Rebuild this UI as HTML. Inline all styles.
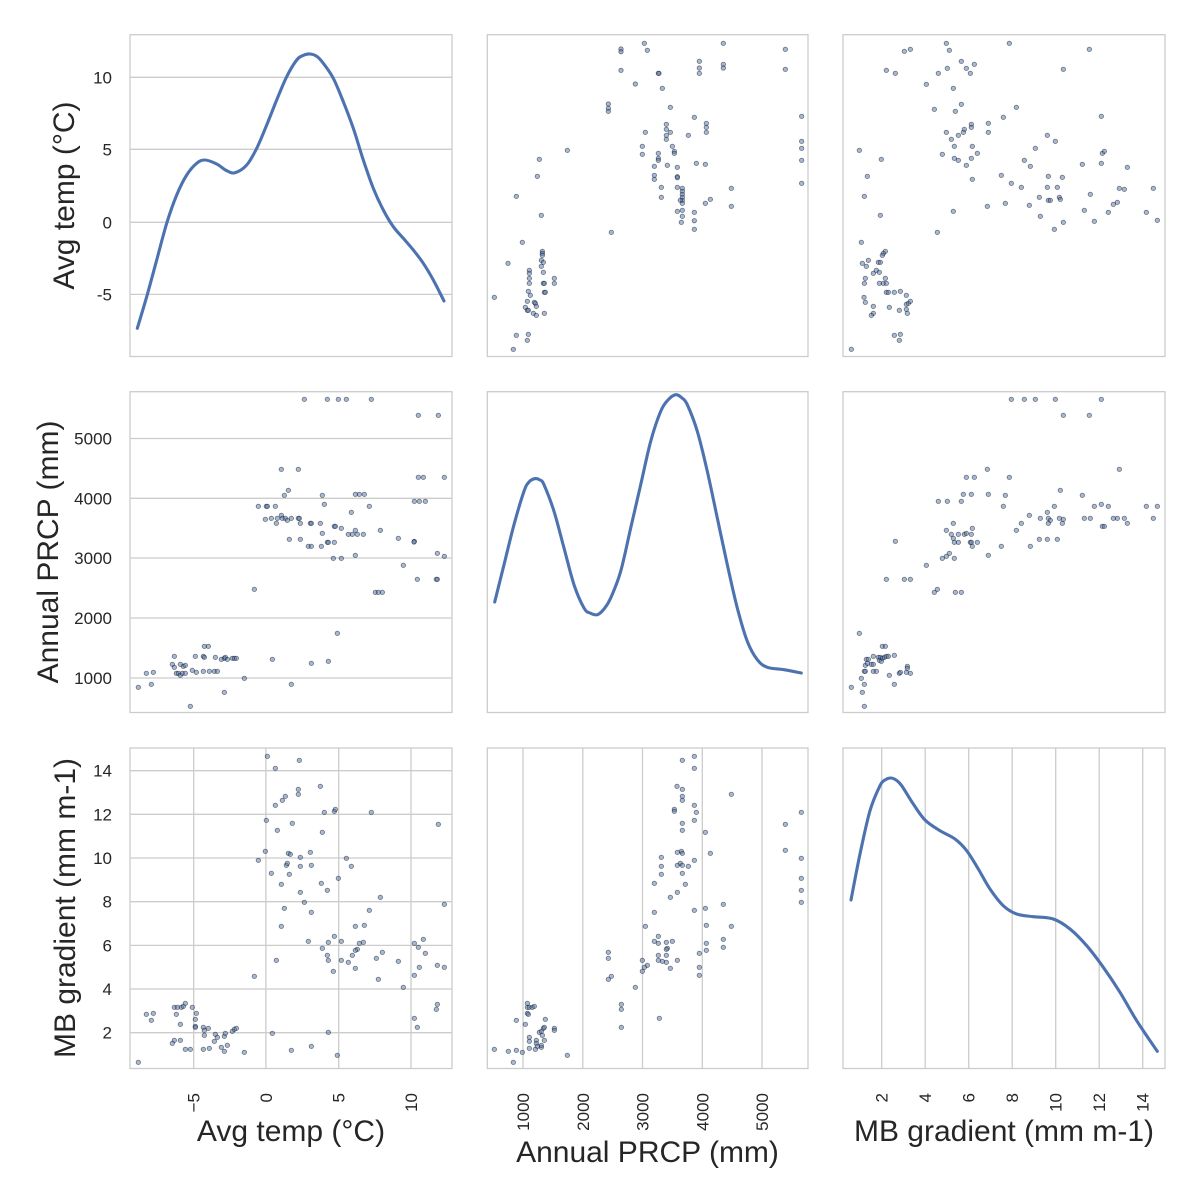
<!DOCTYPE html>
<html><head><meta charset="utf-8"><style>
html,body{margin:0;padding:0;background:#fff;}
svg{display:block;}
text{font-family:"Liberation Sans",Arial,sans-serif;fill:#262626;}
.tk{font-size:17px;}
.lb{font-size:30px;}
.g{stroke:#cccccc;stroke-width:1.3;fill:none;}
.sp{stroke:#cccccc;stroke-width:1.3;fill:none;}
.pts circle{r:6.6px;fill:#4c72b0;fill-opacity:.5;stroke:#000;stroke-opacity:.5;stroke-width:2.4;}
.kde{fill:none;stroke:#4c72b0;stroke-width:3.1;stroke-linejoin:round;stroke-linecap:round;}
</style></head><body>
<svg id="fig" width="1200" height="1200" viewBox="0 0 1200 1200" xmlns="http://www.w3.org/2000/svg">
<rect width="1200" height="1200" fill="#fff"/>
<g class="g">
<line x1="130" x2="452" y1="77.3" y2="77.3"/><line x1="130" x2="452" y1="149.3" y2="149.3"/><line x1="130" x2="452" y1="222.3" y2="222.3"/><line x1="130" x2="452" y1="294.4" y2="294.4"/>
<line x1="130" x2="452" y1="438.5" y2="438.5"/><line x1="130" x2="452" y1="498.3" y2="498.3"/><line x1="130" x2="452" y1="558" y2="558"/><line x1="130" x2="452" y1="618" y2="618"/><line x1="130" x2="452" y1="678" y2="678"/>
<line x1="130" x2="452" y1="770.7" y2="770.7"/><line x1="130" x2="452" y1="814.3" y2="814.3"/><line x1="130" x2="452" y1="858" y2="858"/><line x1="130" x2="452" y1="901.7" y2="901.7"/><line x1="130" x2="452" y1="945.4" y2="945.4"/><line x1="130" x2="452" y1="989" y2="989"/><line x1="130" x2="452" y1="1032.7" y2="1032.7"/>
<line y1="748" y2="1068.5" x1="193.7" x2="193.7"/><line y1="748" y2="1068.5" x1="265.9" x2="265.9"/><line y1="748" y2="1068.5" x1="338.7" x2="338.7"/><line y1="748" y2="1068.5" x1="411" x2="411"/>
<line y1="748" y2="1068.5" x1="523" x2="523"/><line y1="748" y2="1068.5" x1="582.8" x2="582.8"/><line y1="748" y2="1068.5" x1="642.5" x2="642.5"/><line y1="748" y2="1068.5" x1="702.3" x2="702.3"/><line y1="748" y2="1068.5" x1="762" x2="762"/>
<line y1="748" y2="1068.5" x1="881.7" x2="881.7"/><line y1="748" y2="1068.5" x1="925.2" x2="925.2"/><line y1="748" y2="1068.5" x1="968.7" x2="968.7"/><line y1="748" y2="1068.5" x1="1012.2" x2="1012.2"/><line y1="748" y2="1068.5" x1="1055.7" x2="1055.7"/><line y1="748" y2="1068.5" x1="1099.2" x2="1099.2"/><line y1="748" y2="1068.5" x1="1142.7" x2="1142.7"/>
</g>

<polyline class="kde" points="137.3,328.3 146.7,296.7 156.7,260 166.7,223.3 176.7,195 186.7,175 196.7,163.3 205,160 216.7,164 226.7,170.7 235,172.7 246.7,165 256.7,148.3 266.7,125 276.7,100 286.7,76.7 296.7,60 303,55.5 310,54 317,56.5 323.3,63.3 333.3,78.3 343.3,101.7 353.3,128.3 363.3,160 373.3,188.3 383.3,210 393.3,226.7 403.3,238.3 413.3,250 423.3,263.3 433.3,280 444,301"/>
<polyline class="kde" points="494.7,602 504,564.7 514,524.7 524,491.3 529,482 534.7,478.7 540,480 544,484.7 554,511.3 564,548 574,584.7 584,608 590,613 597.3,614.7 604,609 610.7,598 620.7,571.3 630.7,528 640.7,484.7 650.7,441.3 660.7,411.3 668,400 675.7,394.7 682,398 687.3,404.7 697.3,431.3 707.3,471.3 717.3,518 727.3,564.7 737.3,608 747.3,641.3 757.3,659.7 767.3,667.3 784,669.7 801.3,673"/>
<polyline class="kde" points="851,900 860,854 870,810.7 880,785.7 885,780 890.7,778 896,780 901.7,785.7 913.3,804 925,820 940,830.7 955,839 966.7,850.7 978.3,869 990,889 1003.3,905.7 1016.7,914 1033.3,916.7 1053.3,919 1070,929 1086.7,945.7 1103.3,967.3 1120,992.3 1136.7,1020.7 1157.3,1051.3"/>

<g class="pts" transform="translate(485,30) scale(0.333333)">
<circle cx="408" cy="57"/><circle cx="408" cy="65"/><circle cx="478" cy="40"/><circle cx="487" cy="61"/><circle cx="715" cy="40"/><circle cx="901" cy="58"/><circle cx="643" cy="94"/><circle cx="643" cy="114"/><circle cx="643" cy="130"/><circle cx="715" cy="103"/><circle cx="715" cy="114"/><circle cx="408" cy="121"/><circle cx="520" cy="130"/><circle cx="522" cy="130"/><circle cx="451" cy="162"/><circle cx="532" cy="175"/><circle cx="901" cy="118"/><circle cx="370" cy="222"/><circle cx="370" cy="235"/><circle cx="370" cy="244"/><circle cx="556" cy="232"/><circle cx="628" cy="262"/><circle cx="664" cy="280"/><circle cx="664" cy="292"/><circle cx="664" cy="307"/><circle cx="544" cy="283"/><circle cx="544" cy="298"/><circle cx="556" cy="307"/><circle cx="481" cy="307"/><circle cx="544" cy="316"/><circle cx="544" cy="328"/><circle cx="610" cy="316"/><circle cx="472" cy="349"/><circle cx="562" cy="349"/><circle cx="568" cy="364"/><circle cx="568" cy="370"/><circle cx="472" cy="373"/><circle cx="520" cy="370"/><circle cx="520" cy="385"/><circle cx="520" cy="391"/><circle cx="508" cy="409"/><circle cx="547" cy="406"/><circle cx="577" cy="412"/><circle cx="634" cy="400"/><circle cx="661" cy="403"/><circle cx="950" cy="259"/><circle cx="950" cy="334"/><circle cx="950" cy="355"/><circle cx="950" cy="391"/><circle cx="950" cy="460"/><circle cx="247" cy="361"/><circle cx="163" cy="388"/><circle cx="157" cy="439"/><circle cx="94" cy="499"/><circle cx="169" cy="556"/><circle cx="508" cy="436"/><circle cx="508" cy="448"/><circle cx="577" cy="440"/><circle cx="577" cy="443"/><circle cx="529" cy="472"/><circle cx="577" cy="472"/><circle cx="592" cy="475"/><circle cx="592" cy="484"/><circle cx="592" cy="493"/><circle cx="592" cy="502"/><circle cx="592" cy="511"/><circle cx="586" cy="511"/><circle cx="592" cy="520"/><circle cx="739" cy="475"/><circle cx="529" cy="502"/><circle cx="676" cy="508"/><circle cx="661" cy="520"/><circle cx="739" cy="529"/><circle cx="577" cy="544"/><circle cx="592" cy="541"/><circle cx="592" cy="559"/><circle cx="628" cy="547"/><circle cx="628" cy="572"/><circle cx="589" cy="577"/><circle cx="628" cy="598"/><circle cx="379" cy="607"/><circle cx="112" cy="637"/><circle cx="69" cy="700"/><circle cx="172" cy="664"/><circle cx="172" cy="670"/><circle cx="172" cy="676"/><circle cx="169" cy="691"/><circle cx="175" cy="697"/><circle cx="169" cy="709"/><circle cx="175" cy="727"/><circle cx="133" cy="721"/><circle cx="133" cy="730"/><circle cx="133" cy="745"/><circle cx="133" cy="760"/><circle cx="208" cy="745"/><circle cx="208" cy="760"/><circle cx="175" cy="760"/><circle cx="178" cy="760"/><circle cx="178" cy="787"/><circle cx="181" cy="787"/><circle cx="28" cy="802"/><circle cx="130" cy="784"/><circle cx="136" cy="796"/><circle cx="127" cy="814"/><circle cx="148" cy="817"/><circle cx="151" cy="820"/><circle cx="154" cy="829"/><circle cx="121" cy="832"/><circle cx="127" cy="841"/><circle cx="130" cy="841"/><circle cx="145" cy="850"/><circle cx="154" cy="856"/><circle cx="178" cy="850"/><circle cx="94" cy="916"/><circle cx="130" cy="913"/><circle cx="127" cy="931"/><circle cx="85" cy="958"/>
</g>

<g class="pts" transform="translate(840,30) scale(0.333333)">
<circle cx="319" cy="40"/><circle cx="508" cy="40"/><circle cx="193" cy="64"/><circle cx="211" cy="58"/><circle cx="328" cy="61"/><circle cx="748" cy="58"/><circle cx="364" cy="94"/><circle cx="403" cy="103"/><circle cx="322" cy="115"/><circle cx="379" cy="115"/><circle cx="139" cy="121"/><circle cx="166" cy="130"/><circle cx="295" cy="130"/><circle cx="391" cy="130"/><circle cx="670" cy="118"/><circle cx="259" cy="163"/><circle cx="340" cy="175"/><circle cx="364" cy="223"/><circle cx="283" cy="238"/><circle cx="346" cy="244"/><circle cx="529" cy="232"/><circle cx="490" cy="262"/><circle cx="784" cy="259"/><circle cx="445" cy="280"/><circle cx="394" cy="283"/><circle cx="394" cy="292"/><circle cx="373" cy="298"/><circle cx="370" cy="307"/><circle cx="445" cy="307"/><circle cx="319" cy="307"/><circle cx="355" cy="316"/><circle cx="334" cy="328"/><circle cx="622" cy="316"/><circle cx="646" cy="334"/><circle cx="343" cy="349"/><circle cx="397" cy="349"/><circle cx="586" cy="355"/><circle cx="412" cy="370"/><circle cx="307" cy="373"/><circle cx="343" cy="385"/><circle cx="355" cy="391"/><circle cx="394" cy="385"/><circle cx="379" cy="406"/><circle cx="397" cy="448"/><circle cx="553" cy="391"/><circle cx="571" cy="409"/><circle cx="58" cy="361"/><circle cx="124" cy="388"/><circle cx="787" cy="370"/><circle cx="793" cy="364"/><circle cx="784" cy="400"/><circle cx="727" cy="403"/><circle cx="862" cy="412"/><circle cx="82" cy="439"/><circle cx="484" cy="436"/><circle cx="625" cy="439"/><circle cx="667" cy="442"/><circle cx="514" cy="460"/><circle cx="544" cy="472"/><circle cx="622" cy="472"/><circle cx="652" cy="472"/><circle cx="73" cy="499"/><circle cx="598" cy="502"/><circle cx="625" cy="511"/><circle cx="631" cy="511"/><circle cx="658" cy="502"/><circle cx="661" cy="508"/><circle cx="838" cy="475"/><circle cx="853" cy="478"/><circle cx="940" cy="475"/><circle cx="751" cy="493"/><circle cx="442" cy="529"/><circle cx="496" cy="520"/><circle cx="568" cy="526"/><circle cx="601" cy="559"/><circle cx="733" cy="541"/><circle cx="820" cy="523"/><circle cx="832" cy="517"/><circle cx="805" cy="547"/><circle cx="919" cy="547"/><circle cx="340" cy="544"/><circle cx="121" cy="556"/><circle cx="670" cy="577"/><circle cx="763" cy="574"/><circle cx="643" cy="598"/><circle cx="952" cy="571"/><circle cx="292" cy="607"/><circle cx="64" cy="637"/><circle cx="136" cy="664"/><circle cx="130" cy="670"/><circle cx="127" cy="676"/><circle cx="85" cy="691"/><circle cx="67" cy="700"/><circle cx="79" cy="709"/><circle cx="115" cy="697"/><circle cx="121" cy="697"/><circle cx="109" cy="721"/><circle cx="100" cy="730"/><circle cx="118" cy="727"/><circle cx="76" cy="745"/><circle cx="73" cy="760"/><circle cx="136" cy="745"/><circle cx="118" cy="760"/><circle cx="130" cy="760"/><circle cx="139" cy="760"/><circle cx="139" cy="787"/><circle cx="145" cy="787"/><circle cx="163" cy="787"/><circle cx="181" cy="784"/><circle cx="199" cy="796"/><circle cx="72" cy="802"/><circle cx="76" cy="817"/><circle cx="100" cy="829"/><circle cx="148" cy="832"/><circle cx="178" cy="841"/><circle cx="199" cy="823"/><circle cx="205" cy="820"/><circle cx="211" cy="814"/><circle cx="199" cy="838"/><circle cx="202" cy="850"/><circle cx="100" cy="850"/><circle cx="94" cy="856"/><circle cx="163" cy="916"/><circle cx="181" cy="913"/><circle cx="178" cy="931"/><circle cx="34" cy="958"/>
</g>

<g class="pts" transform="translate(128,388) scale(0.333333)">
<circle cx="529" cy="34"/><circle cx="598" cy="34"/><circle cx="631" cy="34"/><circle cx="655" cy="34"/><circle cx="730" cy="34"/><circle cx="871" cy="82"/><circle cx="931" cy="82"/><circle cx="460" cy="244"/><circle cx="511" cy="244"/><circle cx="871" cy="268"/><circle cx="886" cy="268"/><circle cx="949" cy="268"/><circle cx="481" cy="307"/><circle cx="469" cy="322"/><circle cx="583" cy="322"/><circle cx="682" cy="319"/><circle cx="694" cy="319"/><circle cx="709" cy="319"/><circle cx="391" cy="355"/><circle cx="415" cy="355"/><circle cx="418" cy="355"/><circle cx="442" cy="355"/><circle cx="589" cy="349"/><circle cx="724" cy="355"/><circle cx="859" cy="340"/><circle cx="874" cy="340"/><circle cx="892" cy="340"/><circle cx="460" cy="382"/><circle cx="412" cy="394"/><circle cx="430" cy="391"/><circle cx="448" cy="391"/><circle cx="463" cy="391"/><circle cx="472" cy="391"/><circle cx="478" cy="397"/><circle cx="490" cy="391"/><circle cx="511" cy="391"/><circle cx="514" cy="391"/><circle cx="445" cy="406"/><circle cx="517" cy="406"/><circle cx="547" cy="406"/><circle cx="550" cy="406"/><circle cx="577" cy="406"/><circle cx="619" cy="415"/><circle cx="622" cy="415"/><circle cx="640" cy="421"/><circle cx="670" cy="373"/><circle cx="682" cy="427"/><circle cx="661" cy="439"/><circle cx="673" cy="439"/><circle cx="688" cy="439"/><circle cx="706" cy="439"/><circle cx="583" cy="436"/><circle cx="757" cy="427"/><circle cx="811" cy="451"/><circle cx="484" cy="454"/><circle cx="517" cy="454"/><circle cx="541" cy="475"/><circle cx="550" cy="475"/><circle cx="580" cy="475"/><circle cx="598" cy="463"/><circle cx="601" cy="463"/><circle cx="619" cy="463"/><circle cx="859" cy="460"/><circle cx="858" cy="462"/><circle cx="928" cy="496"/><circle cx="949" cy="505"/><circle cx="616" cy="511"/><circle cx="640" cy="511"/><circle cx="682" cy="502"/><circle cx="826" cy="532"/><circle cx="868" cy="574"/><circle cx="925" cy="574"/><circle cx="928" cy="574"/><circle cx="379" cy="604"/><circle cx="742" cy="613"/><circle cx="751" cy="613"/><circle cx="763" cy="613"/><circle cx="628" cy="736"/><circle cx="229" cy="775"/><circle cx="241" cy="775"/><circle cx="139" cy="805"/><circle cx="202" cy="805"/><circle cx="226" cy="805"/><circle cx="229" cy="808"/><circle cx="262" cy="808"/><circle cx="280" cy="814"/><circle cx="289" cy="811"/><circle cx="292" cy="808"/><circle cx="298" cy="814"/><circle cx="313" cy="811"/><circle cx="319" cy="811"/><circle cx="325" cy="811"/><circle cx="433" cy="814"/><circle cx="550" cy="826"/><circle cx="601" cy="820"/><circle cx="133" cy="829"/><circle cx="139" cy="838"/><circle cx="157" cy="829"/><circle cx="166" cy="835"/><circle cx="172" cy="832"/><circle cx="193" cy="847"/><circle cx="205" cy="853"/><circle cx="226" cy="850"/><circle cx="244" cy="850"/><circle cx="259" cy="850"/><circle cx="268" cy="850"/><circle cx="145" cy="856"/><circle cx="151" cy="856"/><circle cx="157" cy="862"/><circle cx="163" cy="856"/><circle cx="172" cy="856"/><circle cx="55" cy="856"/><circle cx="76" cy="853"/><circle cx="349" cy="871"/><circle cx="31" cy="898"/><circle cx="70" cy="889"/><circle cx="490" cy="889"/><circle cx="289" cy="913"/><circle cx="187" cy="955"/>
</g>

<g class="pts" transform="translate(840,388) scale(0.333333)">
<circle cx="514" cy="34"/><circle cx="553" cy="34"/><circle cx="586" cy="34"/><circle cx="646" cy="34"/><circle cx="784" cy="34"/><circle cx="670" cy="82"/><circle cx="748" cy="82"/><circle cx="442" cy="244"/><circle cx="838" cy="244"/><circle cx="379" cy="268"/><circle cx="403" cy="268"/><circle cx="508" cy="268"/><circle cx="661" cy="307"/><circle cx="370" cy="319"/><circle cx="394" cy="319"/><circle cx="445" cy="319"/><circle cx="496" cy="322"/><circle cx="727" cy="322"/><circle cx="295" cy="340"/><circle cx="322" cy="340"/><circle cx="364" cy="340"/><circle cx="490" cy="355"/><circle cx="643" cy="355"/><circle cx="763" cy="355"/><circle cx="784" cy="349"/><circle cx="805" cy="355"/><circle cx="919" cy="355"/><circle cx="952" cy="355"/><circle cx="568" cy="382"/><circle cx="601" cy="391"/><circle cx="622" cy="373"/><circle cx="625" cy="391"/><circle cx="631" cy="397"/><circle cx="625" cy="406"/><circle cx="658" cy="391"/><circle cx="670" cy="394"/><circle cx="667" cy="406"/><circle cx="733" cy="391"/><circle cx="751" cy="391"/><circle cx="820" cy="391"/><circle cx="832" cy="391"/><circle cx="853" cy="391"/><circle cx="940" cy="391"/><circle cx="862" cy="406"/><circle cx="787" cy="415"/><circle cx="793" cy="415"/><circle cx="544" cy="406"/><circle cx="340" cy="406"/><circle cx="319" cy="427"/><circle cx="334" cy="439"/><circle cx="355" cy="439"/><circle cx="373" cy="439"/><circle cx="379" cy="436"/><circle cx="394" cy="439"/><circle cx="397" cy="421"/><circle cx="340" cy="451"/><circle cx="343" cy="463"/><circle cx="355" cy="463"/><circle cx="391" cy="463"/><circle cx="394" cy="463"/><circle cx="412" cy="463"/><circle cx="397" cy="475"/><circle cx="529" cy="427"/><circle cx="598" cy="454"/><circle cx="622" cy="454"/><circle cx="652" cy="454"/><circle cx="484" cy="475"/><circle cx="571" cy="475"/><circle cx="166" cy="460"/><circle cx="445" cy="502"/><circle cx="328" cy="496"/><circle cx="319" cy="505"/><circle cx="307" cy="511"/><circle cx="343" cy="511"/><circle cx="259" cy="532"/><circle cx="139" cy="574"/><circle cx="193" cy="574"/><circle cx="211" cy="574"/><circle cx="292" cy="604"/><circle cx="283" cy="613"/><circle cx="346" cy="613"/><circle cx="364" cy="613"/><circle cx="58" cy="736"/><circle cx="127" cy="775"/><circle cx="136" cy="775"/><circle cx="100" cy="805"/><circle cx="163" cy="802"/><circle cx="79" cy="814"/><circle cx="85" cy="814"/><circle cx="115" cy="808"/><circle cx="121" cy="808"/><circle cx="118" cy="817"/><circle cx="127" cy="811"/><circle cx="133" cy="808"/><circle cx="139" cy="805"/><circle cx="145" cy="805"/><circle cx="76" cy="832"/><circle cx="82" cy="826"/><circle cx="94" cy="829"/><circle cx="100" cy="829"/><circle cx="124" cy="820"/><circle cx="73" cy="850"/><circle cx="76" cy="850"/><circle cx="100" cy="850"/><circle cx="109" cy="850"/><circle cx="148" cy="862"/><circle cx="178" cy="856"/><circle cx="181" cy="853"/><circle cx="202" cy="835"/><circle cx="202" cy="841"/><circle cx="199" cy="853"/><circle cx="211" cy="856"/><circle cx="64" cy="871"/><circle cx="73" cy="889"/><circle cx="163" cy="889"/><circle cx="34" cy="898"/><circle cx="67" cy="913"/><circle cx="73" cy="955"/>
</g>

<g class="pts" transform="translate(128,744) scale(0.333333)">
<circle cx="418" cy="37"/><circle cx="514" cy="49"/><circle cx="442" cy="73"/><circle cx="511" cy="136"/><circle cx="511" cy="151"/><circle cx="577" cy="127"/><circle cx="472" cy="157"/><circle cx="463" cy="169"/><circle cx="442" cy="184"/><circle cx="589" cy="205"/><circle cx="619" cy="202"/><circle cx="622" cy="196"/><circle cx="730" cy="205"/><circle cx="415" cy="229"/><circle cx="493" cy="238"/><circle cx="448" cy="259"/><circle cx="583" cy="265"/><circle cx="931" cy="241"/><circle cx="412" cy="322"/><circle cx="481" cy="328"/><circle cx="487" cy="331"/><circle cx="547" cy="325"/><circle cx="517" cy="340"/><circle cx="391" cy="349"/><circle cx="475" cy="364"/><circle cx="478" cy="358"/><circle cx="517" cy="367"/><circle cx="550" cy="364"/><circle cx="655" cy="343"/><circle cx="670" cy="367"/><circle cx="430" cy="388"/><circle cx="484" cy="391"/><circle cx="631" cy="403"/><circle cx="460" cy="421"/><circle cx="580" cy="418"/><circle cx="598" cy="439"/><circle cx="517" cy="445"/><circle cx="757" cy="460"/><circle cx="529" cy="475"/><circle cx="469" cy="493"/><circle cx="550" cy="505"/><circle cx="724" cy="499"/><circle cx="949" cy="481"/><circle cx="460" cy="547"/><circle cx="682" cy="547"/><circle cx="709" cy="544"/><circle cx="619" cy="577"/><circle cx="541" cy="592"/><circle cx="601" cy="595"/><circle cx="640" cy="592"/><circle cx="694" cy="598"/><circle cx="706" cy="595"/><circle cx="583" cy="613"/><circle cx="688" cy="616"/><circle cx="682" cy="619"/><circle cx="673" cy="634"/><circle cx="859" cy="598"/><circle cx="871" cy="610"/><circle cx="886" cy="586"/><circle cx="892" cy="628"/><circle cx="598" cy="634"/><circle cx="601" cy="649"/><circle cx="640" cy="649"/><circle cx="661" cy="655"/><circle cx="745" cy="643"/><circle cx="763" cy="625"/><circle cx="811" cy="652"/><circle cx="874" cy="670"/><circle cx="928" cy="664"/><circle cx="949" cy="670"/><circle cx="445" cy="649"/><circle cx="616" cy="682"/><circle cx="682" cy="673"/><circle cx="859" cy="694"/><circle cx="751" cy="706"/><circle cx="826" cy="730"/><circle cx="379" cy="697"/><circle cx="928" cy="781"/><circle cx="925" cy="796"/><circle cx="859" cy="823"/><circle cx="868" cy="850"/><circle cx="139" cy="790"/><circle cx="148" cy="790"/><circle cx="160" cy="790"/><circle cx="166" cy="787"/><circle cx="172" cy="778"/><circle cx="193" cy="790"/><circle cx="145" cy="811"/><circle cx="55" cy="811"/><circle cx="76" cy="808"/><circle cx="70" cy="829"/><circle cx="157" cy="841"/><circle cx="205" cy="808"/><circle cx="202" cy="826"/><circle cx="202" cy="847"/><circle cx="202" cy="850"/><circle cx="226" cy="850"/><circle cx="241" cy="853"/><circle cx="229" cy="859"/><circle cx="229" cy="874"/><circle cx="262" cy="871"/><circle cx="268" cy="880"/><circle cx="289" cy="877"/><circle cx="292" cy="868"/><circle cx="313" cy="862"/><circle cx="319" cy="856"/><circle cx="325" cy="853"/><circle cx="259" cy="892"/><circle cx="139" cy="889"/><circle cx="133" cy="898"/><circle cx="157" cy="889"/><circle cx="172" cy="916"/><circle cx="187" cy="916"/><circle cx="226" cy="916"/><circle cx="244" cy="913"/><circle cx="280" cy="910"/><circle cx="289" cy="922"/><circle cx="298" cy="904"/><circle cx="349" cy="925"/><circle cx="433" cy="868"/><circle cx="601" cy="865"/><circle cx="490" cy="919"/><circle cx="550" cy="907"/><circle cx="628" cy="934"/><circle cx="31" cy="955"/>
</g>

<g class="pts" transform="translate(484,744) scale(0.333333)">
<circle cx="631" cy="37"/><circle cx="595" cy="49"/><circle cx="631" cy="73"/><circle cx="579" cy="127"/><circle cx="595" cy="136"/><circle cx="595" cy="157"/><circle cx="595" cy="169"/><circle cx="742" cy="151"/><circle cx="631" cy="184"/><circle cx="571" cy="196"/><circle cx="571" cy="202"/><circle cx="637" cy="205"/><circle cx="631" cy="229"/><circle cx="952" cy="205"/><circle cx="595" cy="238"/><circle cx="595" cy="259"/><circle cx="664" cy="265"/><circle cx="904" cy="241"/><circle cx="904" cy="319"/><circle cx="679" cy="328"/><circle cx="580" cy="325"/><circle cx="592" cy="322"/><circle cx="595" cy="328"/><circle cx="532" cy="340"/><circle cx="580" cy="364"/><circle cx="589" cy="358"/><circle cx="595" cy="364"/><circle cx="613" cy="367"/><circle cx="631" cy="349"/><circle cx="532" cy="367"/><circle cx="532" cy="391"/><circle cx="595" cy="388"/><circle cx="952" cy="343"/><circle cx="511" cy="418"/><circle cx="604" cy="421"/><circle cx="580" cy="445"/><circle cx="559" cy="460"/><circle cx="952" cy="403"/><circle cx="952" cy="439"/><circle cx="952" cy="475"/><circle cx="631" cy="499"/><circle cx="664" cy="493"/><circle cx="718" cy="481"/><circle cx="511" cy="505"/><circle cx="484" cy="547"/><circle cx="667" cy="544"/><circle cx="742" cy="547"/><circle cx="523" cy="577"/><circle cx="511" cy="592"/><circle cx="523" cy="598"/><circle cx="547" cy="595"/><circle cx="565" cy="592"/><circle cx="550" cy="613"/><circle cx="547" cy="616"/><circle cx="667" cy="598"/><circle cx="718" cy="586"/><circle cx="667" cy="619"/><circle cx="718" cy="610"/><circle cx="646" cy="628"/><circle cx="523" cy="634"/><circle cx="547" cy="634"/><circle cx="523" cy="649"/><circle cx="535" cy="652"/><circle cx="547" cy="655"/><circle cx="580" cy="649"/><circle cx="559" cy="673"/><circle cx="646" cy="670"/><circle cx="646" cy="694"/><circle cx="475" cy="649"/><circle cx="490" cy="664"/><circle cx="481" cy="670"/><circle cx="475" cy="682"/><circle cx="373" cy="625"/><circle cx="373" cy="643"/><circle cx="382" cy="697"/><circle cx="373" cy="706"/><circle cx="454" cy="730"/><circle cx="412" cy="781"/><circle cx="412" cy="796"/><circle cx="412" cy="850"/><circle cx="526" cy="823"/><circle cx="130" cy="778"/><circle cx="130" cy="790"/><circle cx="136" cy="790"/><circle cx="145" cy="790"/><circle cx="151" cy="787"/><circle cx="130" cy="808"/><circle cx="133" cy="811"/><circle cx="97" cy="829"/><circle cx="124" cy="841"/><circle cx="184" cy="826"/><circle cx="166" cy="865"/><circle cx="172" cy="862"/><circle cx="178" cy="853"/><circle cx="181" cy="850"/><circle cx="175" cy="874"/><circle cx="181" cy="889"/><circle cx="136" cy="880"/><circle cx="136" cy="892"/><circle cx="157" cy="889"/><circle cx="157" cy="898"/><circle cx="160" cy="907"/><circle cx="172" cy="910"/><circle cx="172" cy="904"/><circle cx="154" cy="916"/><circle cx="136" cy="913"/><circle cx="211" cy="853"/><circle cx="211" cy="859"/><circle cx="31" cy="916"/><circle cx="73" cy="922"/><circle cx="97" cy="919"/><circle cx="115" cy="925"/><circle cx="88" cy="955"/><circle cx="250" cy="934"/>
</g>

<g class="sp">
<rect x="130" y="34.7" width="322" height="321.8"/><rect x="487.3" y="34.7" width="320.7" height="321.8"/><rect x="843" y="34.7" width="322" height="321.8"/>
<rect x="130" y="391.7" width="322" height="320.8"/><rect x="487.3" y="391.7" width="320.7" height="320.8"/><rect x="843" y="391.7" width="322" height="320.8"/>
<rect x="130" y="748" width="322" height="320.5"/><rect x="487.3" y="748" width="320.7" height="320.5"/><rect x="843" y="748" width="322" height="320.5"/>
</g>

<g class="tk" text-anchor="end">
<text x="112" y="83.3">10</text><text x="112" y="155.3">5</text><text x="112" y="228.3">0</text><text x="112" y="300.4">-5</text>
<text x="112" y="444.5">5000</text><text x="112" y="504.3">4000</text><text x="112" y="564">3000</text><text x="112" y="624">2000</text><text x="112" y="684">1000</text>
<text x="112" y="776.7">14</text><text x="112" y="820.3">12</text><text x="112" y="864">10</text><text x="112" y="907.7">8</text><text x="112" y="951.4">6</text><text x="112" y="995">4</text><text x="112" y="1038.7">2</text>
</g>

<g class="tk" text-anchor="end">
<text transform="translate(199.7,1093) rotate(-90)">−5</text>
<text transform="translate(271.9,1093) rotate(-90)">0</text>
<text transform="translate(344.7,1093) rotate(-90)">5</text>
<text transform="translate(417,1093) rotate(-90)">10</text>
<text transform="translate(529,1093) rotate(-90)">1000</text>
<text transform="translate(588.8,1093) rotate(-90)">2000</text>
<text transform="translate(648.5,1093) rotate(-90)">3000</text>
<text transform="translate(708.3,1093) rotate(-90)">4000</text>
<text transform="translate(768,1093) rotate(-90)">5000</text>
<text transform="translate(887.7,1093) rotate(-90)">2</text>
<text transform="translate(931.2,1093) rotate(-90)">4</text>
<text transform="translate(974.7,1093) rotate(-90)">6</text>
<text transform="translate(1018.2,1093) rotate(-90)">8</text>
<text transform="translate(1061.7,1093) rotate(-90)">10</text>
<text transform="translate(1105.2,1093) rotate(-90)">12</text>
<text transform="translate(1148.7,1093) rotate(-90)">14</text>
</g>

<g class="lb" text-anchor="middle">
<text transform="translate(74,195.6) rotate(-90)">Avg temp (°C)</text>
<text transform="translate(58,552) rotate(-90)">Annual PRCP (mm)</text>
<text transform="translate(75,908) rotate(-90)">MB gradient (mm m-1)</text>
<text x="291" y="1141">Avg temp (°C)</text>
<text x="647.5" y="1162">Annual PRCP (mm)</text>
<text x="1004" y="1141">MB gradient (mm m-1)</text>
</g>
</svg>
<script>
(function(){
  var NS="http://www.w3.org/2000/svg";
  var pls=document.querySelectorAll("polyline.kde");
  for(var k=0;k<pls.length;k++){
    var pl=pls[k];
    var raw=pl.getAttribute("points").trim().split(/\s+/);
    var p=raw.map(function(s){var a=s.split(",");return [parseFloat(a[0]),parseFloat(a[1])];});
    var d="M"+p[0][0]+","+p[0][1];
    for(var i=0;i<p.length-1;i++){
      var p0=p[i>0?i-1:i],p1=p[i],p2=p[i+1],p3=p[i+2<p.length?i+2:i+1];
      var c1x=p1[0]+(p2[0]-p0[0])/6,c1y=p1[1]+(p2[1]-p0[1])/6;
      var c2x=p2[0]-(p3[0]-p1[0])/6,c2y=p2[1]-(p3[1]-p1[1])/6;
      d+="C"+c1x.toFixed(2)+","+c1y.toFixed(2)+" "+c2x.toFixed(2)+","+c2y.toFixed(2)+" "+p2[0]+","+p2[1];
    }
    var path=document.createElementNS(NS,"path");
    path.setAttribute("class","kde");
    path.setAttribute("d",d);
    pl.parentNode.replaceChild(path,pl);
  }
})();
</script>
</body></html>
